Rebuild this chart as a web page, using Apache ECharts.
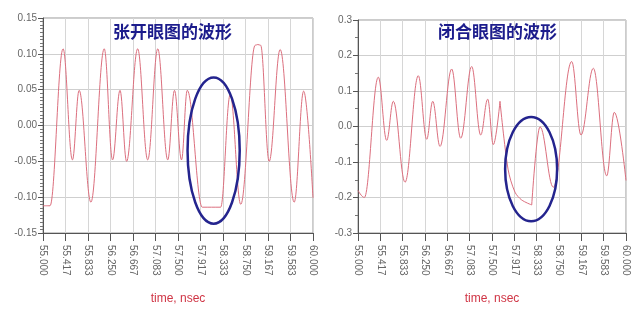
<!DOCTYPE html>
<html>
<head>
<meta charset="utf-8">
<script src="https://cdn.jsdelivr.net/npm/echarts@6/dist/echarts.min.js"></script>
<style>html,body{margin:0;padding:0;background:#fff}#c{width:640px;height:310px}</style>
</head>
<body>
<div id="c"></div>
<script>
// ---- data ----
const titles = ['张开眼图的波形', '闭合眼图的波形'];
const xTickLabels = ['55.000','55.417','55.833','56.250','56.667','57.083','57.500','57.917','58.333','58.750','59.167','59.583','60.000'];
const leftYTickLabels = ['-0.15','-0.10','-0.05','0.00','0.05','0.10','0.15'];
const rightYTickLabels = ['-0.3','-0.2','-0.1','0.0','0.1','0.2','0.3'];

const openTime = [55.000,55.130,55.372,55.545,55.669,55.887,56.134,56.288,56.426,56.548,56.753,56.939,57.125,57.310,57.435,57.565,57.671,57.950,58.290,58.467,58.662,58.930,58.978,59.030,59.188,59.392,59.652,59.827,60.000];
const openVolt = [-0.112,-0.112,0.107,-0.048,0.049,-0.107,0.107,-0.048,0.049,-0.050,0.107,-0.048,0.107,-0.048,0.049,-0.048,0.049,-0.114,-0.114,0.043,-0.110,0.112,0.113,0.112,-0.050,0.106,-0.107,0.048,-0.101];

const closedTime = [55.000,55.118,55.379,55.535,55.659,55.877,56.125,56.282,56.394,56.530,56.748,56.916,57.121,57.289,57.420,57.524,57.649,57.799,57.929,58.054,58.241,58.396,58.644,58.987,59.160,59.390,59.640,59.782,60.000];
const closedVolt = [-0.180,-0.200,0.139,-0.039,0.071,-0.157,0.143,-0.036,0.071,-0.056,0.162,-0.033,0.169,-0.024,0.077,-0.051,0.071,-0.120,-0.185,-0.207,-0.221,-0.001,-0.171,0.183,-0.024,0.164,-0.139,0.040,-0.152];
// the slow, non-oscillating decay inside the closed eye (first and last index)
const closedRamp = [16, 20];

// annotation ellipses (data units: center time, center value, half-width ns, half-height value)
const openEllipse = [58.16, -0.035, 0.483, 0.102];
const closedEllipse = [58.23, -0.120, 0.485, 0.147];

// ---- chart ----
const chart = echarts.init(document.getElementById('c'), null, {renderer: 'canvas'});
const lineColor = '#dc6f7e';
const gridCol = '#d6d6d6';
const axisCol = '#555';
const labelCol = '#666';
const font = 'Liberation Sans, Arial, sans-serif';

function xAxisCfg(gi) {
  return {
    type: 'value', gridIndex: gi, min: 55, max: 60, interval: 5/12,
    name: 'time, nsec', nameLocation: 'middle', nameGap: 60,
    nameTextStyle: {color: '#d03545', fontSize: 12, fontFamily: font},
    axisLine: {show: true, onZero: false, lineStyle: {color: axisCol, width: 1}},
    axisTick: {show: true, length: 8, lineStyle: {color: axisCol}},
    axisLabel: {rotate: -90, margin: 12, color: labelCol, fontSize: 10, fontFamily: font,
      formatter: v => xTickLabels[Math.round((v - 55) * 12 / 5)] || ''},
    splitLine: {show: true, lineStyle: {color: gridCol, width: 1}}
  };
}
function yAxisCfg(gi, min, max, interval, labels, minorSplit) {
  return {
    type: 'value', gridIndex: gi, min: min, max: max, interval: interval,
    axisLine: {show: true, onZero: false, lineStyle: {color: axisCol, width: 1}},
    axisTick: {show: true, length: 5, lineStyle: {color: axisCol}},
    minorTick: {show: true, splitNumber: minorSplit, length: 3, lineStyle: {color: '#777'}},
    axisLabel: {color: labelCol, fontSize: 10, fontFamily: font, margin: 6,
      formatter: v => labels[Math.round((v - min) / interval)] || ''},
    splitLine: {show: true, lineStyle: {color: '#cfcfcf', width: 1}}
  };
}
const lineStyle = {color: lineColor, width: 1};

chart.setOption({
  animation: false,
  backgroundColor: '#fff',
  title: [
    {text: titles[0], left: 113, top: 23, padding: 0,
     textStyle: {color: '#1c1c8c', fontSize: 17, fontWeight: 'bold', fontFamily: 'Noto Sans CJK SC'}},
    {text: titles[1], left: 438, top: 23, padding: 0,
     textStyle: {color: '#1c1c8c', fontSize: 17, fontWeight: 'bold', fontFamily: 'Noto Sans CJK SC'}}
  ],
  grid: [
    {left: 43, top: 18, width: 270, height: 217, show: true, borderColor: '#999', borderWidth: 1, backgroundColor: '#fff'},
    {left: 358, top: 20, width: 268, height: 217, show: true, borderColor: '#999', borderWidth: 1, backgroundColor: '#fff'}
  ],
  xAxis: [xAxisCfg(0), xAxisCfg(1)],
  yAxis: [
    yAxisCfg(0, -0.15, 0.15, 0.05, leftYTickLabels, 10),
    yAxisCfg(1, -0.3, 0.3, 0.1, rightYTickLabels, 2)
  ],
  series: [
    {type: 'line', xAxisIndex: 0, yAxisIndex: 0, showSymbol: false, smooth: 0.38, smoothMonotone: 'x',
     lineStyle: lineStyle, data: openTime.map((t, i) => [t, openVolt[i]])},
    {type: 'line', xAxisIndex: 1, yAxisIndex: 1, showSymbol: false, smooth: 0.38, smoothMonotone: 'x',
     lineStyle: lineStyle,
     data: closedTime.map((t, i) => [t, (i > closedRamp[0] && i < closedRamp[1]) ? null : closedVolt[i]])},
    {type: 'line', xAxisIndex: 1, yAxisIndex: 1, showSymbol: false, smooth: 0.3,
     lineStyle: lineStyle,
     data: closedTime.slice(closedRamp[0], closedRamp[1] + 1).map((t, i) => [t, closedVolt[closedRamp[0] + i]])}
  ]
});

function ellipseGraphic(gi, e) {
  const c = chart.convertToPixel({gridIndex: gi}, [e[0], e[1]]);
  const r = chart.convertToPixel({gridIndex: gi}, [e[0] + e[2], e[1] + e[3]]);
  return {type: 'ellipse', z: 100,
    shape: {cx: c[0], cy: c[1], rx: Math.abs(r[0] - c[0]), ry: Math.abs(c[1] - r[1])},
    style: {fill: null, stroke: '#24248e', lineWidth: 2.5}};
}
chart.setOption({graphic: [ellipseGraphic(0, openEllipse), ellipseGraphic(1, closedEllipse)]});
</script>
</body>
</html>
